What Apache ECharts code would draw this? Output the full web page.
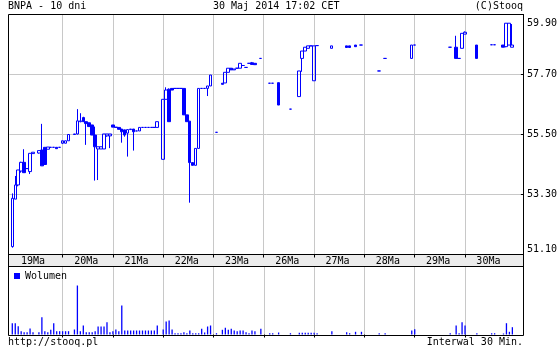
<!DOCTYPE html>
<html>
<head>
<meta charset="utf-8">
<script src="https://cdn.jsdelivr.net/npm/echarts@6/dist/echarts.min.js"></script>
<style>html,body{margin:0;padding:0;background:#fff}#c{width:560px;height:350px}</style>
</head>
<body>
<div id="c"></div>
<script>
// ---- data ----
const days = ['19Ma','20Ma','21Ma','22Ma','23Ma','26Ma','27Ma','28Ma','29Ma','30Ma'];
const priceTicks = [51.10, 53.30, 55.50, 57.70, 59.90];
// each day: 17 half-hour bars [open, close, low, high] or null
const d19 = [[51.39,53.16,51.35,53.34],[53.13,53.65,53.13,53.98],[53.65,54.20,53.60,54.20],[54.16,54.48,54.10,54.50],[54.48,54.10,54.10,54.96],[54.25,54.25,54.25,54.25],[54.14,54.81,54.05,54.81],[54.80,54.85,54.80,54.85],null,[54.82,54.91,54.80,54.91],[54.93,54.35,54.35,55.89],[55.03,54.40,54.40,55.03],[54.96,55.04,54.96,55.04],[55.03,55.03,55.03,55.03],[55.03,55.03,55.03,55.03],[55.03,54.98,54.98,55.03],[55.03,55.03,55.03,55.03]];
const d20 = [[55.18,55.27,55.15,55.27],[55.18,55.27,55.18,55.27],[55.27,55.50,55.27,55.50],null,[55.50,55.52,55.50,55.52],[55.52,56.00,55.50,56.43],[55.97,56.00,55.95,56.28],[56.12,55.97,55.97,56.15],[55.97,55.90,55.12,55.97],[55.93,55.79,55.79,55.93],[55.85,55.48,55.48,55.85],[55.48,55.05,53.81,55.79],[54.97,55.05,53.83,55.05],[54.97,55.05,54.97,55.05],[54.97,55.52,54.97,55.52],[55.45,55.52,55.42,55.52],[55.45,55.52,55.00,55.52]];
const d21 = [[55.85,55.77,55.77,55.85],[55.77,55.76,55.76,55.77],[55.76,55.69,55.69,55.76],[55.70,55.60,55.20,55.70],[55.67,55.48,55.42,55.67],[55.55,55.68,54.69,55.68],[55.68,55.70,55.68,55.70],[55.70,55.60,54.91,55.70],[55.63,55.63,55.63,55.63],[55.63,55.76,55.63,55.76],[55.76,55.76,55.76,55.76],[55.76,55.76,55.76,55.76],[55.76,55.76,55.76,55.76],[55.76,55.76,55.76,55.76],[55.76,55.76,55.76,55.76],[55.76,55.97,55.76,55.97],null];
const d22 = [[54.59,56.79,54.59,56.79],[56.79,57.13,56.79,57.23],[57.16,55.97,55.97,57.19],[57.19,57.13,57.13,57.19],[57.19,57.19,57.19,57.19],[57.19,57.19,57.19,57.19],[57.19,57.19,57.19,57.19],[57.19,56.22,56.22,57.19],[56.22,55.97,55.97,56.22],[55.99,54.47,53.00,55.99],[54.47,54.37,54.37,54.47],[54.37,54.99,54.37,54.99],[54.99,57.19,54.99,57.19],[57.19,57.19,57.19,57.19],[57.19,57.19,57.19,57.19],[57.19,57.28,56.91,57.28],[57.28,57.68,57.28,57.68]];
const d23 = [null,[55.58,55.58,55.58,55.58],null,[57.38,57.34,57.34,57.38],[57.39,57.78,57.39,57.78],[57.78,57.93,57.78,57.93],[57.93,57.87,57.87,57.93],[57.87,57.90,57.87,57.90],[57.93,57.93,57.93,57.93],[57.93,58.11,57.93,58.11],[58.03,58.03,58.03,58.03],[57.96,57.96,57.96,57.96],[58.11,58.11,58.11,58.11],[58.13,58.07,58.07,58.16],[58.11,58.06,58.06,58.11],null,[58.29,58.29,58.29,58.29]];
const d26 = [null,null,[57.38,57.38,57.38,57.38],[57.38,57.38,57.38,57.38],null,[57.40,56.58,56.58,57.40],null,null,null,[56.43,56.43,56.43,56.43],null,null,[56.89,57.83,56.89,57.83],[58.29,58.56,57.80,58.56],[58.56,58.70,58.56,58.70],[58.66,58.75,58.66,58.75],[58.75,58.75,58.75,58.75]];
const d27 = [[57.47,58.75,57.47,58.75],[58.76,58.76,58.76,58.76],null,null,null,null,[58.66,58.75,58.66,58.75],null,null,null,null,[58.75,58.69,58.69,58.75],[58.75,58.69,58.69,58.75],null,[58.78,58.72,58.72,58.78],null,[58.78,58.78,58.78,58.78]];
const d28 = [null,null,null,null,null,[57.83,57.83,57.83,57.83],null,[58.29,58.29,58.29,58.29],null,null,null,null,null,null,null,null,[58.29,58.78,58.29,58.78]];
const d29 = [[58.78,58.78,58.78,58.78],null,null,null,null,null,null,null,null,null,null,null,[58.70,58.70,58.70,58.70],null,[58.70,58.29,58.29,59.12],[58.29,58.29,58.29,58.29],[58.66,59.21,58.66,59.21]];
const d30 = [[59.18,59.25,59.18,59.28],null,null,null,[58.78,58.29,58.29,58.78],null,null,null,null,[58.79,58.79,58.79,58.79],[58.79,58.79,58.79,58.79],null,null,[58.78,58.70,58.70,58.78],[58.72,59.58,58.70,59.58],[58.78,59.58,58.78,59.58],[58.70,58.78,58.70,59.55]];
// volume per bar (relative units)
const v19 = [11.3,11.3,8.3,3.3,2.3,2.3,6,2.3,null,2.3,17.3,3.3,2.3,4.7,11.3,3.3,3.3];
const v20 = [3.3,3.3,3.3,null,5,49,3.3,9,2.3,2.3,2.3,3.3,8,8,8,12.3,2.3];
const v21 = [3.3,5,3.3,29,4,4,4,4,4,4,4,4,4,4,4,9,null];
const v22 = [5,13,14,5,1.3,1.3,1.3,2.3,1.3,4,1.3,1.3,1.3,5.7,2,8,9];
const v23 = [null,1.3,null,4.7,6.7,4.7,5.7,4,3.3,4,4,2.3,1.3,4,3.3,null,5.7];
const v26 = [null,null,1.3,1.3,null,2,null,null,null,1.3,null,null,1.7,1.7,1.7,1.7,1.7];
const v27 = [1.7,1.3,null,null,null,null,3.3,null,null,null,null,2.3,1.3,null,2.7,null,2.7];
const v28 = [null,null,null,null,null,1.3,null,1.3,null,null,null,null,null,null,null,null,4];
const v29 = [5.3,null,null,null,null,null,null,null,null,null,null,null,1.3,null,9,1.3,12.3];
const v30 = [9,null,null,null,1.3,null,null,null,null,1.3,1.3,null,null,1,11.3,2.7,7.3];

// ---- build ----
const candleDays = [d19,d20,d21,d22,d23,d26,d27,d28,d29,d30];
const volDays = [v19,v20,v21,v22,v23,v26,v27,v28,v29,v30];
const PER = 17, PADL = 1, PADR = 4;
const N = PADL + PER*days.length + PADR;
const cats = [];
for (let i=0;i<N;i++) cats.push('c'+i);
const candles = [], vols = [];
for (let i=0;i<PADL;i++){candles.push(['-','-','-','-']);vols.push('-');}
candleDays.forEach((d,di)=>{
  d.forEach((b,si)=>{
    candles.push(b ? b : ['-','-','-','-']);
    const v = volDays[di][si];
    vols.push(v==null?'-':v);
  });
});
for (let i=0;i<PADR;i++){candles.push(['-','-','-','-']);vols.push('-');}

const dayStart = i => i>PADL && (i-PADL)%PER===0 && i < PADL+PER*days.length;
const labelIdx = {};
days.forEach((d,k)=>{ labelIdx[k===0 ? PADL+7 : PADL+PER*k+8] = d; });

const FONT = 'DejaVu Sans Mono';
const txt = {fontFamily:FONT,fontSize:10,color:'#000',fontWeight:'normal'};
const L = 9.34, W = 2.959*(N-1);
const R = 560 - (L+W);
const maxTick = priceTicks[priceTicks.length-1];

const chart = echarts.init(document.getElementById('c'), null, {renderer:'canvas'});
chart.setOption({
  animation:false,
  backgroundColor:'#fff',
  title:[
    {text:'BNPA - 10 dni',left:8,top:1,padding:0,textStyle:txt},
    {text:'30 Maj 2014 17:02 CET',left:213,top:1,padding:0,textStyle:txt},
    {text:'(C)Stooq',right:37,top:1,padding:0,textStyle:txt},
    {text:'http://stooq.pl',left:8,top:337,padding:0,textStyle:txt},
    {text:'Interwal 30 Min.',right:37,top:337,padding:0,textStyle:txt}
  ],
  legend:{data:['Wolumen'],left:14,top:271,padding:0,itemWidth:6,itemHeight:6,icon:'rect',
    textStyle:txt, selectedMode:false},
  grid:[
    {left:L,right:R,top:14.5,height:240},
    {left:L,right:R,top:266.5,height:68}
  ],
  xAxis:[
    {type:'category',gridIndex:0,data:cats,boundaryGap:false,
     axisLine:{show:false},
     axisTick:{show:true,interval:(i)=>dayStart(i),length:3,lineStyle:{color:'#000'}},
     axisLabel:{interval:(i)=>labelIdx[i]!==undefined,formatter:(v,i)=>labelIdx[i]||'',margin:2,
       fontFamily:FONT,fontSize:10,color:'#000'},
     splitLine:{show:true,interval:(i)=>dayStart(i),lineStyle:{color:'#c8c8c8',width:1}}},
    {type:'category',gridIndex:1,data:cats,boundaryGap:false,position:'top',
     axisLine:{show:false},
     axisTick:{show:true,inside:true,interval:(i)=>dayStart(i),length:3,lineStyle:{color:'#000'}},
     axisLabel:{show:false},
     splitLine:{show:true,interval:(i)=>dayStart(i),lineStyle:{color:'#c8c8c8',width:1}}}
  ],
  yAxis:[
    {type:'value',gridIndex:0,position:'right',min:priceTicks[0],max:maxTick,
     interval:+(priceTicks[1]-priceTicks[0]).toFixed(2),
     axisLine:{show:false},
     axisTick:{show:true,inside:true,length:3,lineStyle:{color:'#000'}},
     axisLabel:{margin:3,
       formatter:(v)=>Math.abs(v-maxTick)<1e-6 ? '{t|'+v.toFixed(2)+'}' : v.toFixed(2),
       rich:{t:{fontFamily:FONT,fontSize:10,color:'#000',padding:[4,0,0,0]}},
       fontFamily:FONT,fontSize:10,color:'#000',
       verticalAlignMaxLabel:'top',verticalAlignMinLabel:'bottom'},
     splitLine:{show:true,lineStyle:{color:'#c8c8c8',width:1}}},
    {type:'value',gridIndex:1,min:0,max:68,show:false,splitLine:{show:false}}
  ],
  series:[
    {name:'BNPA',type:'candlestick',xAxisIndex:0,yAxisIndex:0,data:candles,barWidth:3,
     itemStyle:{color:'rgba(0,0,0,0)',color0:'#0000ff',borderColor:'#0000ff',borderColor0:'#0000ff',borderColorDoji:'#0000ff',borderWidth:1}},
    {name:'Wolumen',type:'bar',xAxisIndex:1,yAxisIndex:1,data:vols,barWidth:1.3,
     itemStyle:{color:'#0000ff'}}
  ],
  graphic:[
    {type:'rect',z:-10,silent:true,shape:{x:8.5,y:254.5,width:515,height:12},style:{fill:'#ececec',stroke:null}},
    {type:'rect',z:100,silent:true,shape:{x:8.5,y:14.5,width:515,height:252},style:{fill:null,stroke:'#000',lineWidth:1}},
    {type:'rect',z:100,silent:true,shape:{x:8.5,y:254.5,width:515,height:81},style:{fill:null,stroke:'#000',lineWidth:1}}
  ]
});
</script>
</body>
</html>
